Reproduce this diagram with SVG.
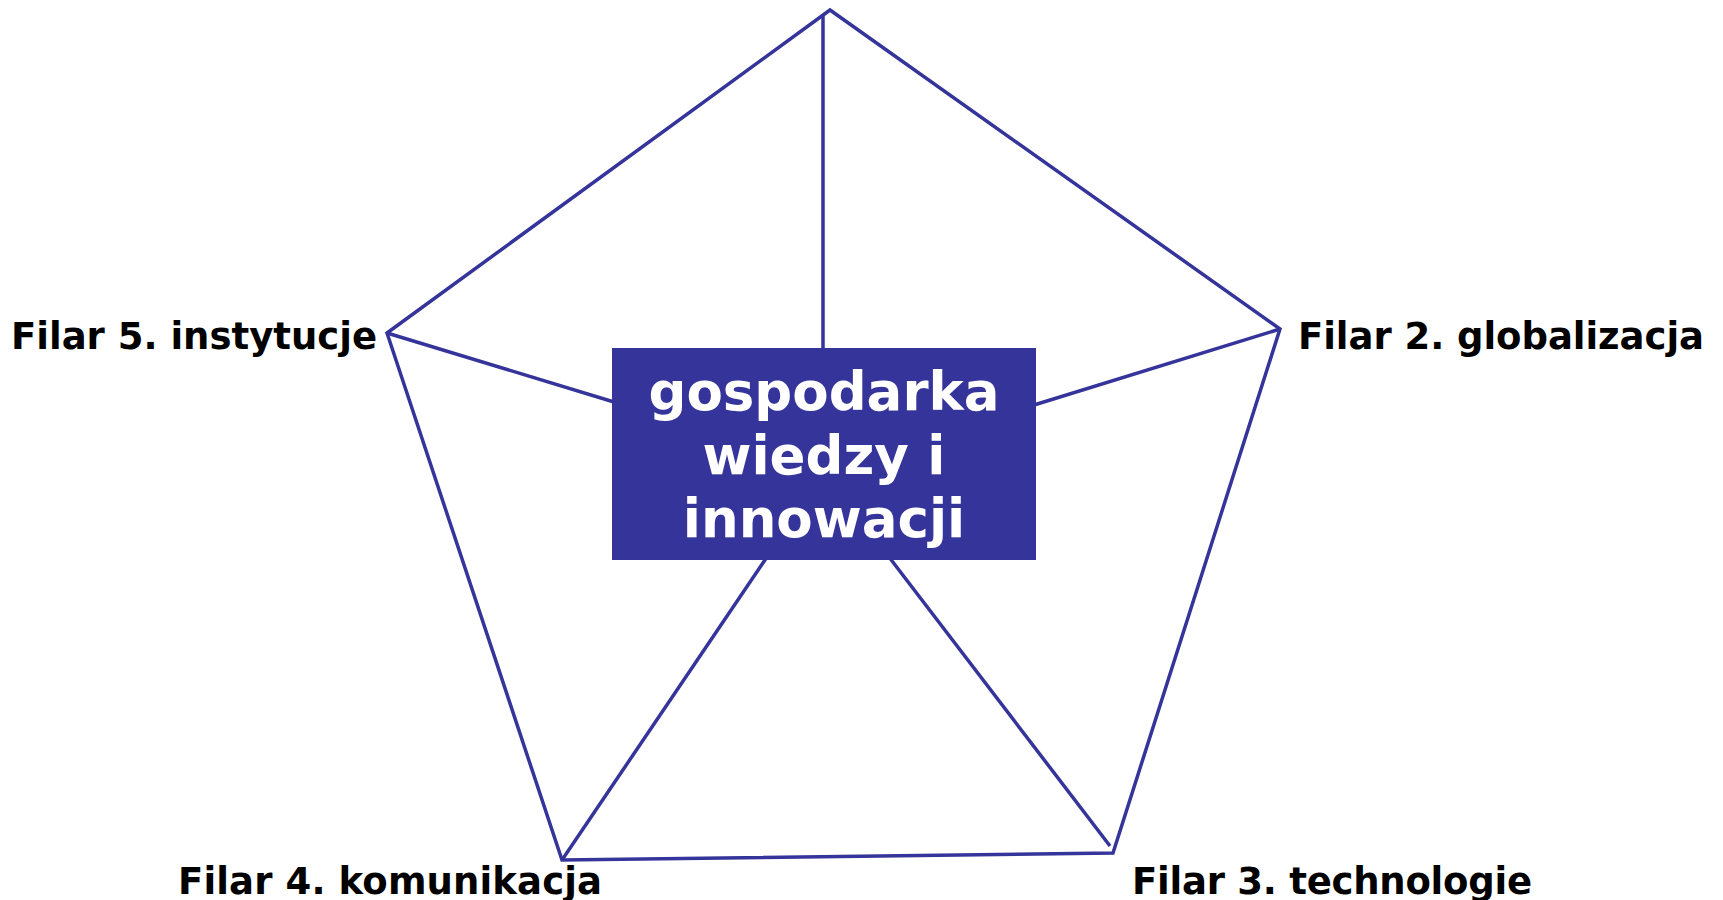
<svg xmlns="http://www.w3.org/2000/svg" width="1723" height="900" viewBox="0 0 1723 900">
<style>
.edge{stroke:#35349a;stroke-width:3.5;fill:none;stroke-linejoin:miter}
.lbl{font-family:"DejaVu Sans",Verdana,sans-serif;font-weight:bold;font-size:37px;fill:#000}
.ctr{font-family:"DejaVu Sans",Verdana,sans-serif;font-weight:bold;font-size:53px;fill:#fff;text-anchor:middle}
</style>
<rect width="1723" height="900" fill="#fff"/>
<g id="connectors">
<polygon class="edge" points="830,10 1280,329 1113,853 562,860 387,333"/>
<line class="edge" x1="823" y1="14" x2="823" y2="350"/>
<line class="edge" x1="387" y1="333" x2="614" y2="402"/>
<line class="edge" x1="1280" y1="329" x2="1034" y2="405"/>
<line class="edge" x1="562" y1="860" x2="767" y2="557"/>
<line class="edge" x1="1110" y1="846" x2="889" y2="557"/>
</g>
<g id="center">
<rect x="612" y="348" width="424" height="212" fill="#35349a"/>
<text class="ctr" x="824" y="410">gospodarka</text>
<text class="ctr" x="824" y="474">wiedzy i</text>
<text class="ctr" x="824" y="537">innowacji</text>
</g>
<g id="filar5"><text class="lbl" x="11" y="349" textLength="366">Filar 5. instytucje</text></g>
<g id="filar2"><text class="lbl" x="1298" y="349" textLength="406">Filar 2. globalizacja</text></g>
<g id="filar4"><text class="lbl" x="178" y="894" textLength="424">Filar 4. komunikacja</text></g>
<g id="filar3"><text class="lbl" x="1132" y="894" textLength="400">Filar 3. technologie</text></g>
</svg>
